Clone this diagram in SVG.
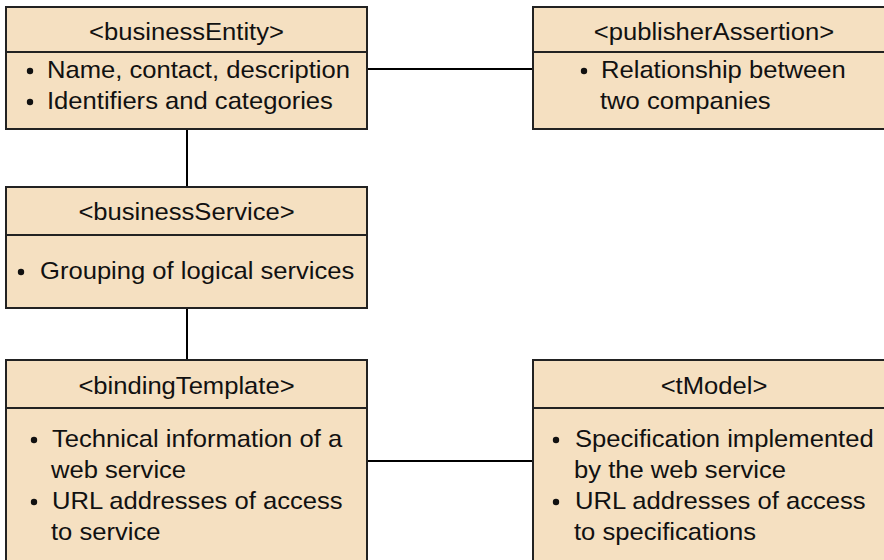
<svg xmlns="http://www.w3.org/2000/svg" width="884" height="560" viewBox="0 0 884 560">
  <style>
    .box { fill: #F5E0C1; stroke: #222; stroke-width: 2; }
    .div { stroke: #222; stroke-width: 2; }
    .conn { stroke: #000; stroke-width: 2; fill: none; }
    text { font-family: "Liberation Sans", Arial, sans-serif; font-size: 24px; fill: #111; }
    .title { text-anchor: middle; }
    .dot { fill: #111; }
  </style>
  <rect width="884" height="560" fill="#fff"/>

  <!-- connectors -->
  <g id="connectors">
    <line class="conn" x1="367" y1="69" x2="533" y2="69"/>
    <line class="conn" x1="187" y1="129" x2="187" y2="187"/>
    <line class="conn" x1="187" y1="308" x2="187" y2="360"/>
    <line class="conn" x1="367" y1="461" x2="533" y2="461"/>
  </g>

  <!-- text is set slightly wide: matrix(sx 0 0 1 x y) places each line -->
  <g id="businessEntity">
    <rect class="box" x="6" y="7" width="361" height="122"/>
    <line class="div" x1="6" y1="52" x2="367" y2="52"/>
    <text class="title" transform="matrix(1.067 0 0 1 186.5 39.5)">&lt;businessEntity&gt;</text>
    <circle class="dot" cx="30" cy="71" r="3.2"/>
    <text transform="matrix(1.067 0 0 1 47 78)">Name, contact, description</text>
    <circle class="dot" cx="30" cy="102" r="3.2"/>
    <text transform="matrix(1.067 0 0 1 47 109)">Identifiers and categories</text>
  </g>

  <g id="publisherAssertion">
    <rect class="box" x="533" y="7" width="362" height="122"/>
    <line class="div" x1="533" y1="52" x2="895" y2="52"/>
    <text class="title" transform="matrix(1.067 0 0 1 714 39.5)">&lt;publisherAssertion&gt;</text>
    <circle class="dot" cx="584" cy="71" r="3.2"/>
    <text transform="matrix(1.067 0 0 1 601 78)">Relationship between</text>
    <text transform="matrix(1.067 0 0 1 600 109)">two companies</text>
  </g>

  <g id="businessService">
    <rect class="box" x="6" y="187" width="361" height="121"/>
    <line class="div" x1="6" y1="235" x2="367" y2="235"/>
    <text class="title" transform="matrix(1.067 0 0 1 186.5 220)">&lt;businessService&gt;</text>
    <circle class="dot" cx="21" cy="272" r="3.2"/>
    <text transform="matrix(1.067 0 0 1 40 279)">Grouping of logical services</text>
  </g>

  <g id="bindingTemplate">
    <rect class="box" x="6" y="360" width="361" height="210"/>
    <line class="div" x1="6" y1="408" x2="367" y2="408"/>
    <text class="title" transform="matrix(1.067 0 0 1 186.5 394)">&lt;bindingTemplate&gt;</text>
    <circle class="dot" cx="34" cy="440" r="3.2"/>
    <text transform="matrix(1.067 0 0 1 52 447)">Technical information of a</text>
    <text transform="matrix(1.067 0 0 1 51 478)">web service</text>
    <circle class="dot" cx="34" cy="502" r="3.2"/>
    <text transform="matrix(1.067 0 0 1 52 509)">URL addresses of access</text>
    <text transform="matrix(1.067 0 0 1 51 540)">to service</text>
  </g>

  <g id="tModel">
    <rect class="box" x="533" y="360" width="362" height="210"/>
    <line class="div" x1="533" y1="408" x2="895" y2="408"/>
    <text class="title" transform="matrix(1.067 0 0 1 714 394)">&lt;tModel&gt;</text>
    <circle class="dot" cx="556" cy="440" r="3.2"/>
    <text transform="matrix(1.067 0 0 1 575 447)">Specification implemented</text>
    <text transform="matrix(1.067 0 0 1 574 478)">by the web service</text>
    <circle class="dot" cx="556" cy="502" r="3.2"/>
    <text transform="matrix(1.067 0 0 1 575 509)">URL addresses of access</text>
    <text transform="matrix(1.067 0 0 1 574 540)">to specifications</text>
  </g>
</svg>
